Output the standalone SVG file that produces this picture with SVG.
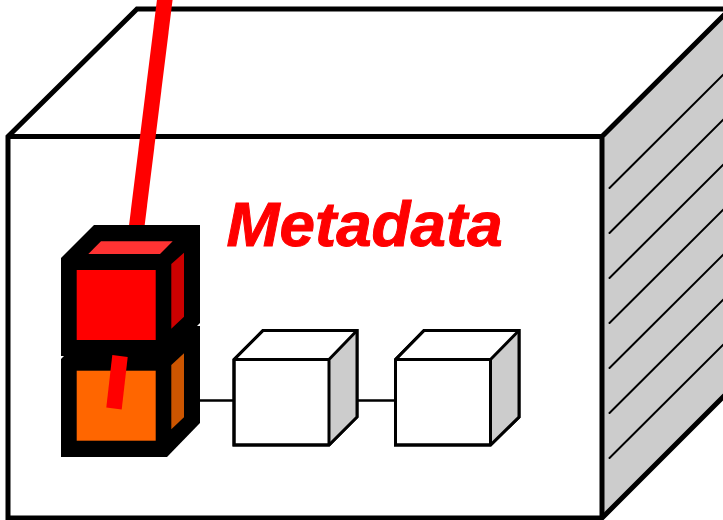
<svg xmlns="http://www.w3.org/2000/svg" width="723" height="520" viewBox="0 0 723 520">
<defs><style>
.outer{stroke:#000;stroke-width:5;stroke-linejoin:miter;fill:none}
.hatch{stroke:#000;stroke-width:2;stroke-linecap:round;fill:none}
.thin{stroke:#000;stroke-width:3;stroke-linejoin:miter;fill:#fff}
.edge{stroke:#000;stroke-width:3;fill:none}
.side{fill:#ccc}
.link{stroke:#000;stroke-width:2.5;fill:none}
.pipe{stroke:#f00;stroke-width:15.5;fill:none}
text{font-family:"Liberation Sans",Arial,sans-serif;font-weight:bold;font-style:italic;font-size:63.700px;fill:#f00;stroke:#f00;stroke-width:1}
</style></defs>
<rect width="723" height="520" fill="#fff"/>
<g id="enclosure">
<polygon class="side" points="602,136.500 740,-1 740,380 602,518"/>
<path class="hatch" d="M609.500 188L735 63M609.500 233L735 108M609.500 278L735 153M609.500 323L735 198M609.500 368L735 243M609.500 413L735 288M609.500 458L735 333"/>
<polygon class="outer" points="8,136.500 137,9 740,9 740,380 602,518 8,518"/>
<path class="outer" d="M8 136.500H602V518M602 136.500L740 -1"/>
</g>
<g id="connectors">
<path class="pipe" d="M165 -2L136 232"/>
<path class="link" d="M195 400.500H234M358 400.500H395"/>
</g>
<g id="cube-orange">
<polygon points="61,359 94,326 200,326 200,423 167,457 61,457"/>
<rect fill="#f60" x="76.700" y="370.700" width="79" height="70"/>
<polygon fill="#c50" points="171.300,365 184,353.300 184,417.300 171.300,429.300"/>
</g>
<g id="cube-red">
<polygon points="61,258 94,225 200,225 200,323 167,356 61,356"/>
<rect fill="#f00" x="76.700" y="270" width="79" height="70"/>
<polygon fill="#f33" points="88.300,254 101,241.300 172.700,241.300 160,254"/>
<polygon fill="#c00" points="171.300,264 184,252.700 184,316.700 171.300,328.700"/>
</g>
<g id="pipe-end"><path class="pipe" d="M120 356L114 408.500"/></g>
<g id="cube-white-1">
<polygon class="thin" points="234,359.500 263,330.500 357,330.500 357,417 329,445 234,445"/>
<polygon class="side" points="329,359.500 357,331 357,417 329,445"/>
<polygon class="edge" points="234,359.500 263,330.500 357,330.500 357,417 329,445 234,445"/>
<path class="edge" d="M234 359.500H329V445M329 359.500L357 330.500"/>
</g>
<g id="cube-white-2">
<polygon class="thin" points="395.500,359.500 424,330.500 519,330.500 519,417 490.500,445 395.500,445"/>
<polygon class="side" points="490.500,359.500 519,331 519,417 490.500,445"/>
<polygon class="edge" points="395.500,359.500 424,330.500 519,330.500 519,417 490.500,445 395.500,445"/>
<path class="edge" d="M395.500 359.500H490.500V445M490.500 359.500L519 330.500"/>
</g>
<g id="label"><text x="226.500" y="245.500">Metadata</text></g>
</svg>
